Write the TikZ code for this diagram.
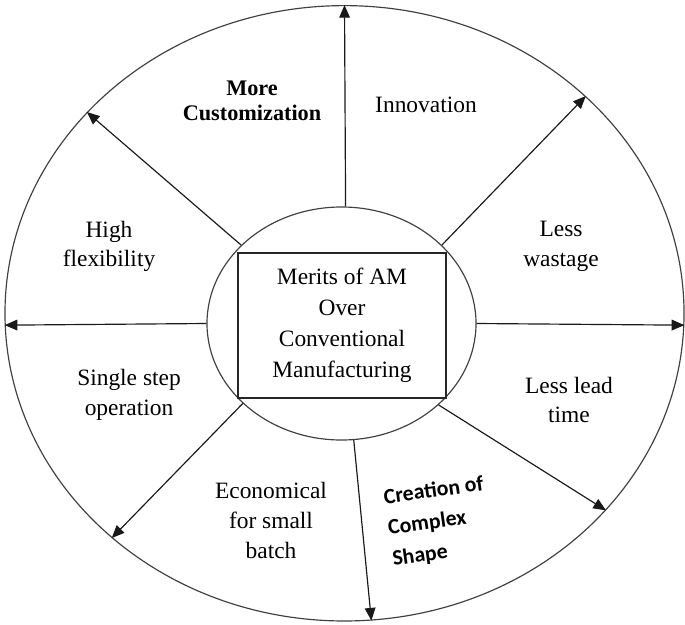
\documentclass[tikz,border=0pt]{standalone}
\usepackage{fontspec}
\setmainfont{Liberation Serif}
\newfontfamily\labelsans{Carlito}
\usetikzlibrary{positioning,shapes.geometric,arrows.meta}

\begin{document}
\begin{tikzpicture}[x=0.03cm, y=-0.03cm,
  merit/.style={align=center, font=\fontsize{20}{25}\selectfont},
  ring/.style={ellipse, draw=black!75, line width=1pt, inner sep=0pt},
  spoke/.style={draw=black!90, line width=1pt, -{Triangle[length=3.8mm,width=3.2mm]}}]
  \useasboundingbox (0,0) rectangle (685,624);
  % rings and centre box
  \node[ring, minimum width=20.37cm, minimum height=18.46cm] (outer) at (344.5,313.3) {};
  \node[ring, minimum width=8.07cm, minimum height=6.99cm] (inner) at (341.5,323.5) {};
  \node[draw=black!85, line width=1pt, minimum width=6.24cm, minimum height=4.35cm,
    merit, font=\fontsize{20}{26.5}\selectfont] (merits) at (342,325.5)
    {Merits of AM\\Over\\Conventional\\Manufacturing};
  % spokes
  \draw[spoke] (inner.88) -- (outer.90.5);
  \draw[spoke] (inner.38) -- (outer.42.8);
  \draw[spoke] (inner.0) -- (outer.-2.6);
  \draw[spoke] (inner.-40.6) -- (outer.-37.4);
  \draw[spoke] (inner.-84) -- (outer.-85.4);
  \draw[spoke] (inner.219.6) -- (outer.224.5);
  \draw[spoke] (inner.180) -- (outer.182.3);
  \draw[spoke] (inner.142.2) -- (outer.142.5);
  % merits
  \node[merit, font=\bfseries\fontsize{19}{20.8}\selectfont] (custom) at (252,101) {More\\Customization};
  \node[merit] (innov) at (426,105) {Innovation};
  \node[merit] (waste) at (561,246.5) {Less\\wastage};
  \node[merit] (flex) at (109,246.5) {High\\flexibility};
  \node[merit] (single) at (129,395) {Single step\\operation};
  \node[merit] (lead) at (569,400) {Less lead\\time};
  \node[merit, font=\fontsize{20}{26}\selectfont] (econ) at (271,520.5) {Economical\\for small\\batch};
  \node[align=left, rotate=8, font=\labelsans\bfseries\fontsize{18.6}{26.5}\selectfont]
    (shape) at (438,522) {Creation of\\Complex\\Shape};
\end{tikzpicture}
\end{document}
